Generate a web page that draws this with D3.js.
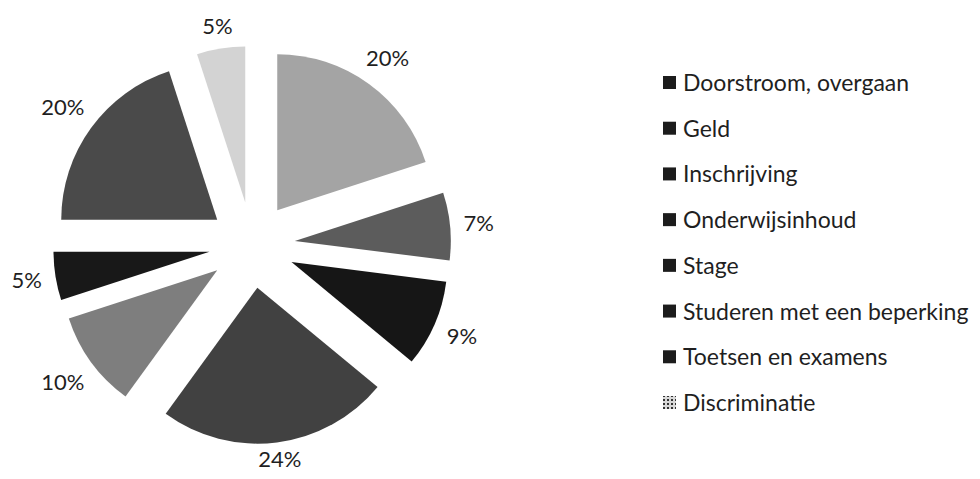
<!DOCTYPE html>
<html>
<head>
<meta charset="utf-8">
<script src="https://cdn.jsdelivr.net/npm/d3@7"></script>
<style>
  html, body { margin: 0; padding: 0; background: #fff; }
  svg text { font-family: Lato, "Open Sans", sans-serif; fill: #1f1f1f; }
</style>
</head>
<body>
<div id="chartDiv"></div>
<script>
// waarden zoals
const categories = [
    "Doorstroom, overgaan",
    "Geld",
    "Inschrijving",
    "Onderwijsinhoud",
    "Stage",
    "Studeren met een beperking",
    "Toetsen en examens",
    "Discriminatie"
];
const percentages = [20, 7, 9, 24, 10, 5, 20, 5];
const sliceColors = ["#a4a4a4", "#5c5c5c", "#161616", "#414141", "#7e7e7e", "#181818", "#4a4a4a", "#d3d3d3"];

const width = 980, height = 479;
const center = { x: 252, y: 245 };
const radius = 156;
const explode = 43;
const labelPad = 13;

let svg = d3.select("#chartDiv").append("svg")
    .attr("width", width)
    .attr("height", height);

// patroontje voor het laatste legenda-blokje
let defs = svg.append("defs");
let pat = defs.append("pattern")
    .attr("id", "dots")
    .attr("width", 4).attr("height", 4)
    .attr("patternUnits", "userSpaceOnUse");
pat.append("rect").attr("width", 4).attr("height", 4).attr("fill", "#d8d8d8");
pat.append("rect").attr("width", 2).attr("height", 2).attr("fill", "#333");

let pie = d3.pie().sort(null).value(d => d);
let arcs = pie(percentages);

let arc = d3.arc().innerRadius(0).outerRadius(radius);

const mid = d => (d.startAngle + d.endAngle) / 2;

let g = svg.append("g")
    .attr("transform", `translate(${center.x}, ${center.y})`);

// uitgetrokken taartpunten
g.selectAll("path.slice")
    .data(arcs)
    .enter()
    .append("path")
    .attr("class", "slice")
    .attr("d", arc)
    .attr("transform", d => `translate(${explode * Math.sin(mid(d))}, ${-explode * Math.cos(mid(d))})`)
    .style("fill", (d, i) => sliceColors[i]);

// percentages: buiten de punt, afstand hangt af van de tekstgrootte
let labels = g.selectAll("text.pct")
    .data(arcs)
    .enter()
    .append("text")
    .attr("class", "pct")
    .attr("dy", "0.35em")
    .style("text-anchor", "middle")
    .style("font-size", "22px")
    .text(d => d.data + "%");

labels.each(function (d) {
    const bb = this.getBBox();
    const a = mid(d);
    const sx = Math.sin(a), cy = -Math.cos(a);
    const R = radius + explode + labelPad + bb.width / 2 * Math.abs(sx) + bb.height / 2 * 0.55 * Math.abs(cy);
    let y = R * cy;
    // binnen het plaatje houden
    y = Math.min(y, height - center.y - 20);
    d3.select(this).attr("x", R * sx).attr("y", y);
});

// legenda
let ly = d3.scalePoint()
    .domain(categories)
    .range([83, 403]);

let legend = svg.selectAll("g.legend")
    .data(categories)
    .enter()
    .append("g")
    .attr("class", "legend")
    .attr("transform", d => `translate(663, ${ly(d)})`);

legend.append("rect")
    .attr("x", 0)
    .attr("y", -7)
    .attr("width", 13)
    .attr("height", 13)
    .style("fill", (d, i) => i === categories.length - 1 ? "url(#dots)" : "#1c1c1c");

legend.append("text")
    .attr("x", 20)
    .attr("dy", "0.35em")
    .style("font-size", "23px")
    .text(d => d);
</script>
</body>
</html>
